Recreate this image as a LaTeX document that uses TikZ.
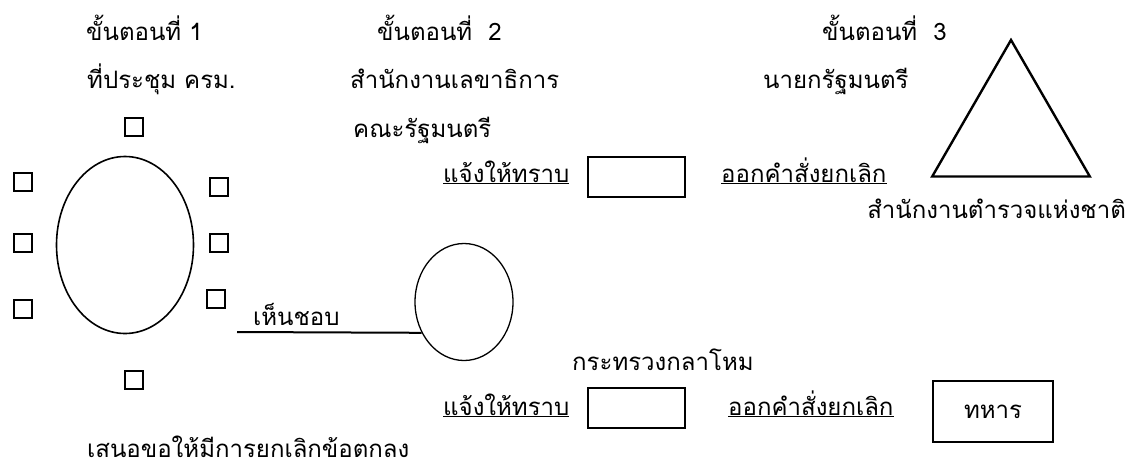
\documentclass[tikz,border=0pt]{standalone}
\usepackage{fontspec}
\newfontfamily\thaifont[Script=Thai]{Loma}
\usetikzlibrary{positioning,shapes.geometric}
\begin{document}
\begin{tikzpicture}[x=1pt,y=-1pt,
    lbl/.style={font=\thaifont\fontsize{24}{28}\selectfont, inner sep=0, anchor=base west},
    seat/.style={draw, line width=2.2pt, minimum size=18pt, inner sep=0},
    panel/.style={draw, line width=2pt, inner sep=0, minimum width=97pt, minimum height=40pt}]

\useasboundingbox (0,0) rectangle (1129,469);

% step 1: the meeting
\node [lbl] (step1) at (86,40) {ขั้นตอนที่ 1};
\node [lbl] (meeting) at (87,88) {ที่ประชุม ครม.};
\node [draw, ellipse, line width=1.6pt, minimum width=137pt, minimum height=177pt, inner sep=0] (council) at (125,245) {};
\node [seat] (top) at (134,127) {};
\node [seat] (bottom) at (134,380) {};
\foreach \y [count=\i] in {182,243,309}
  \node [seat] (l\i) at (23,\y) {};
\foreach \y/\x [count=\i] in {187/219,243/219,299/216}
  \node [seat] (r\i) at (\x,\y) {};
\node [lbl] (propose) at (87,457) {เสนอขอให้มีการยกเลิกข้อตกลง};

% step 2: the secretariat
\node [lbl] (step2) at (377,40) {ขั้นตอนที่\ \ 2};
\node [lbl] (secretariat) at (350,88) {สำนักงานเลขาธิการ};
\node [lbl] (cabinet) at (353,137) {คณะรัฐมนตรี};
\node [lbl] (inform1) at (443,182) {\underline{แจ้งให้ทราบ}};
\node [panel] (box1) at (636.5,177) {};
\node [lbl] (order1) at (721,182) {\underline{ออกคำสั่งยกเลิก}};

% step 3: the prime minister
\node [lbl] (step3) at (822,40) {ขั้นตอนที่\ \ 3};
\node [lbl] (pm) at (763,88) {นายกรัฐมนตรี};
\node [draw, regular polygon, regular polygon sides=3, minimum size=182pt, line width=2.4pt, inner sep=0] (police) at (1011,131) {};
\node [lbl, anchor=base east] (policetext) at (1126,218) {สำนักงานตำรวจแห่งชาติ};

% lower branch
\node [draw, ellipse, line width=1.3pt, minimum width=98pt, minimum height=117pt, inner sep=0] (defence) at (464,302) {};
\coordinate (agreestart) at (237,332);
\draw [line width=2pt] (agreestart) -- (defence.216);
\node [lbl] (agree) at (253,325) {เห็นชอบ};
\node [lbl] (defencetext) at (572,370) {กระทรวงกลาโหม};
\node [lbl] (inform2) at (443,415) {\underline{แจ้งให้ทราบ}};
\node [panel] (box2) at (636.5,408) {};
\node [lbl] (order2) at (728,415) {\underline{ออกคำสั่งยกเลิก}};
\node [panel, minimum width=120pt, minimum height=61pt, font=\thaifont\fontsize{24}{28}\selectfont] (soldier) at (993,411.5) {ทหาร};
\end{tikzpicture}
\end{document}
